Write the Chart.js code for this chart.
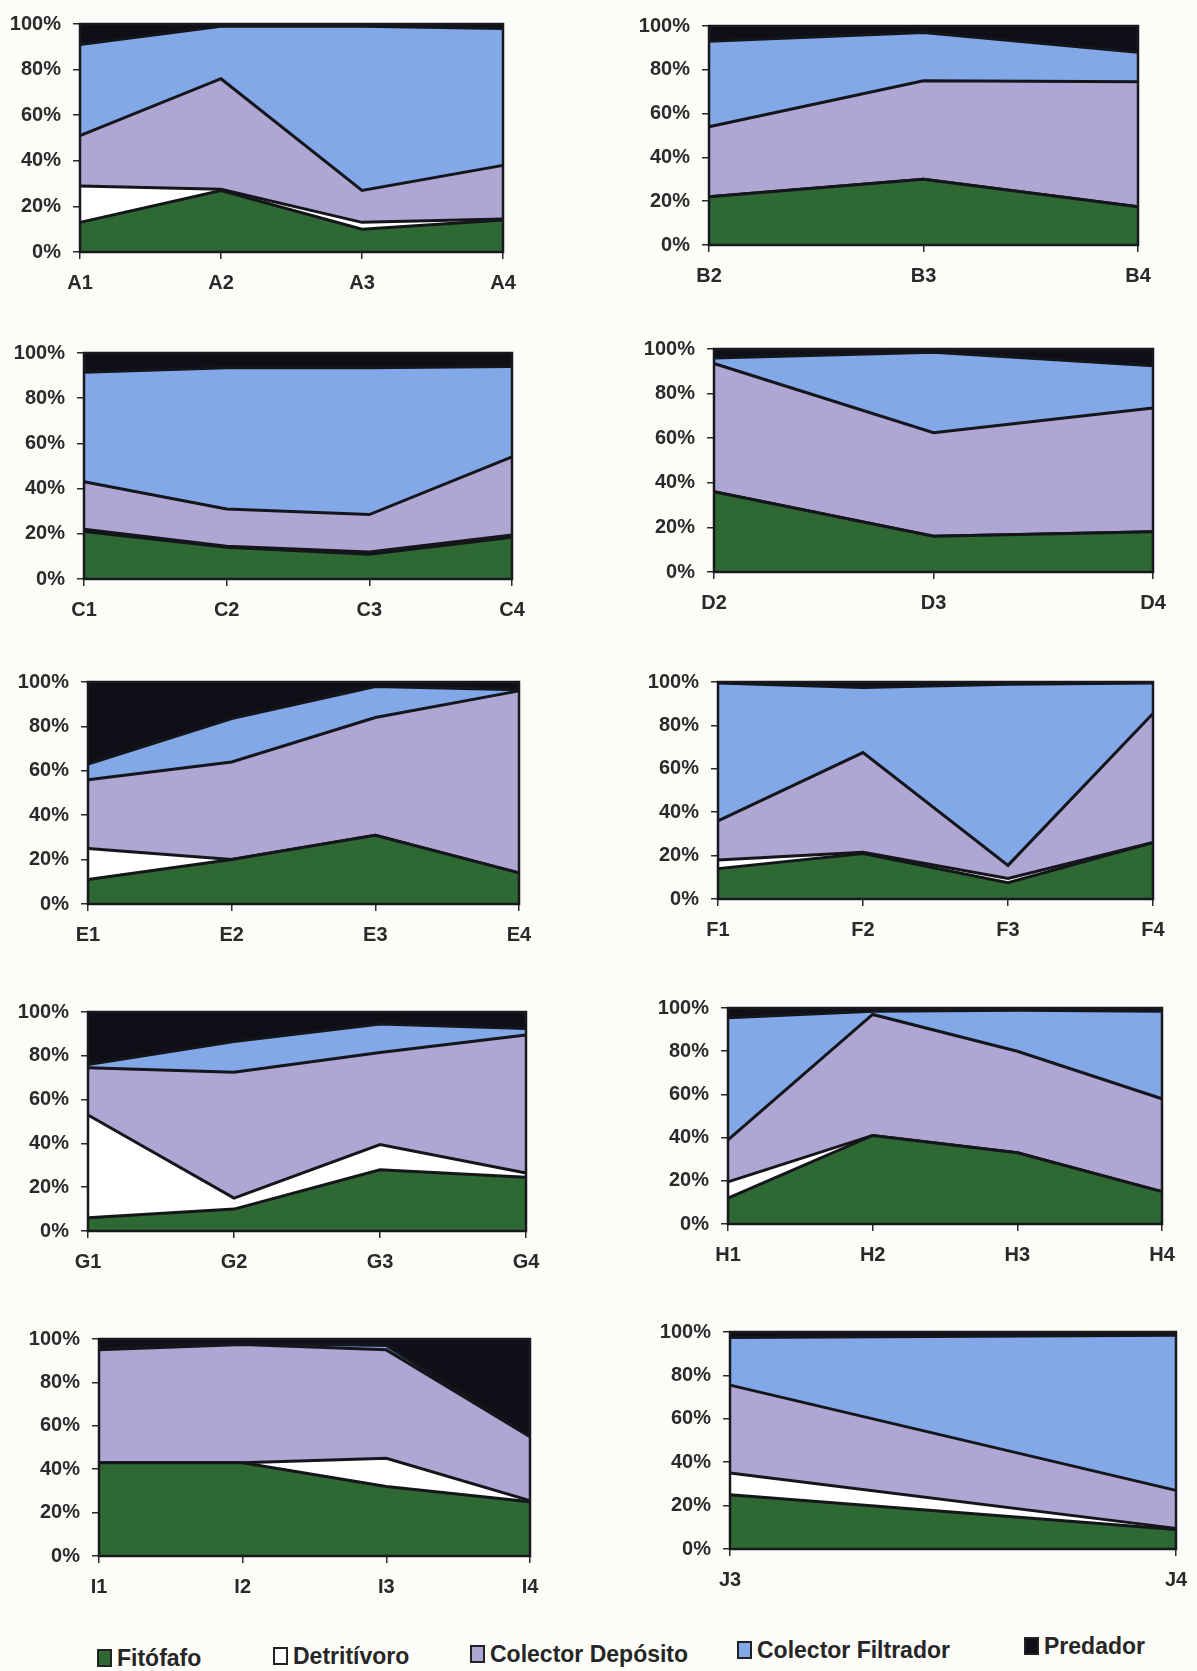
<!DOCTYPE html>
<html><head><meta charset="utf-8">
<script src="https://cdn.jsdelivr.net/npm/chart.js@4.4.1/dist/chart.umd.min.js"></script>
<style>
html,body{margin:0;padding:0;background:#fcfcf8;}
body{width:1197px;height:1671px;position:relative;overflow:hidden;font-family:'Liberation Sans',Arial,sans-serif;}
.panel{position:absolute;}
.leg{position:absolute;display:flex;align-items:center;font-size:23px;font-weight:bold;color:#262626;white-space:nowrap;height:28px;}
.sw{display:inline-block;width:11px;height:14px;border:2px solid #222;margin-right:5px;}
</style></head><body>
<script>
// ---------- DATA (percent per trophic group) ----------
const seriesNames = ['Fitófafo','Detritívoro','Colector Depósito','Colector Filtrador','Predador'];

const A_labels = ['A1','A2','A3','A4'];
const A_fitofago = [13, 27, 10, 14];
const A_detritivoro = [16, 0.5, 3, 0.5];
const A_deposito = [22, 48.5, 14, 23.5];
const A_filtrador = [40, 23, 72, 60];
const A_predador = [9, 1, 1, 2];

const B_labels = ['B2','B3','B4'];
const B_fitofago = [22, 30, 17.5];
const B_detritivoro = [0, 0, 0];
const B_deposito = [32, 45, 57];
const B_filtrador = [39, 22, 13.5];
const B_predador = [7, 3, 12];

const C_labels = ['C1','C2','C3','C4'];
const C_fitofago = [21, 14, 11, 18.5];
const C_detritivoro = [1, 0.5, 1, 1];
const C_deposito = [21, 16.5, 16.5, 34.5];
const C_filtrador = [48.5, 62.5, 65, 40];
const C_predador = [8.5, 6.5, 6.5, 6];

const D_labels = ['D2','D3','D4'];
const D_fitofago = [36, 16, 18];
const D_detritivoro = [0, 0, 0];
const D_deposito = [57.5, 46.5, 55.5];
const D_filtrador = [2.5, 36, 19];
const D_predador = [4, 1.5, 7.5];

const E_labels = ['E1','E2','E3','E4'];
const E_fitofago = [11, 20, 31, 14];
const E_detritivoro = [14, 0, 0, 0];
const E_deposito = [31, 44, 53, 82];
const E_filtrador = [7, 19.5, 14, 0.5];
const E_predador = [37, 16.5, 2, 3.5];

const F_labels = ['F1','F2','F3','F4'];
const F_fitofago = [14, 21, 7.5, 26];
const F_detritivoro = [4, 0.5, 2, 0];
const F_deposito = [18, 46, 6, 59.5];
const F_filtrador = [63.5, 30, 83.5, 14];
const F_predador = [0.5, 2.5, 1, 0.5];

const G_labels = ['G1','G2','G3','G4'];
const G_fitofago = [6, 10, 28, 24.5];
const G_detritivoro = [47, 5, 11.5, 2];
const G_deposito = [21.5, 57.5, 42, 63];
const G_filtrador = [1.5, 14, 13, 3];
const G_predador = [24, 13.5, 5.5, 7.5];

const H_labels = ['H1','H2','H3','H4'];
const H_fitofago = [12, 41, 33, 15];
const H_detritivoro = [7.5, 0, 0, 0];
const H_deposito = [19.5, 56, 47, 43];
const H_filtrador = [56.5, 1.5, 19, 40.5];
const H_predador = [4.5, 1.5, 1, 1.5];

const I_labels = ['I1','I2','I3','I4'];
const I_fitofago = [43, 43, 32, 25];
const I_detritivoro = [0, 0, 13, 0.5];
const I_deposito = [52, 54.5, 50, 29.5];
const I_filtrador = [0.5, 0.5, 2, 0];
const I_predador = [4.5, 2, 3, 45];

const J_labels = ['J3','J4'];
const J_fitofago = [25, 9];
const J_detritivoro = [10, 0.5];
const J_deposito = [40.5, 17.5];
const J_filtrador = [22, 71.5];
const J_predador = [2.5, 1.5];

const yTickValues = [0, 20, 40, 60, 80, 100];

// ---------- STYLE / LAYOUT ----------
const fillColors = ['#2e6832', '#ffffff', '#b0a6d3', '#82a8e8', '#0f0f17'];
const FONT = "'Liberation Sans', Arial, sans-serif";
// plot-area boxes [left, top, right, bottom] in page pixels
const boxes = {
  A:[80,16,503,252],  B:[709,18,1138,245],
  C:[84,345,512,579], D:[714,341,1153,572],
  E:[88,674,519,904], F:[718,674,1153,899],
  G:[88,1004,526,1231], H:[728,1000,1162,1224],
  I:[99,1331,530,1556], J:[730,1324,1176,1549]
};

const panels = [
  ['A', A_labels, [A_fitofago, A_detritivoro, A_deposito, A_filtrador, A_predador]],
  ['B', B_labels, [B_fitofago, B_detritivoro, B_deposito, B_filtrador, B_predador]],
  ['C', C_labels, [C_fitofago, C_detritivoro, C_deposito, C_filtrador, C_predador]],
  ['D', D_labels, [D_fitofago, D_detritivoro, D_deposito, D_filtrador, D_predador]],
  ['E', E_labels, [E_fitofago, E_detritivoro, E_deposito, E_filtrador, E_predador]],
  ['F', F_labels, [F_fitofago, F_detritivoro, F_deposito, F_filtrador, F_predador]],
  ['G', G_labels, [G_fitofago, G_detritivoro, G_deposito, G_filtrador, G_predador]],
  ['H', H_labels, [H_fitofago, H_detritivoro, H_deposito, H_filtrador, H_predador]],
  ['I', I_labels, [I_fitofago, I_detritivoro, I_deposito, I_filtrador, I_predador]],
  ['J', J_labels, [J_fitofago, J_detritivoro, J_deposito, J_filtrador, J_predador]]
];

const framePlugin = {
  id: 'frame',
  afterDatasetsDraw(chart) {
    const a = chart.chartArea, ctx = chart.ctx;
    ctx.save();
    ctx.strokeStyle = '#18181f';
    ctx.lineWidth = 2.5;
    ctx.strokeRect(a.left, a.top, a.right - a.left, a.bottom - a.top);
    ctx.restore();
  }
};

function makePanel(key, labels, series) {
  const [x0, y0, x1, y1] = boxes[key];
  const padL = 80, padT = 16, padR = 34, padB = 50;
  const w = (x1 - x0) + padL + padR, h = (y1 - y0) + padT + padB;
  const div = document.createElement('div');
  div.className = 'panel';
  div.style.left = (x0 - padL) + 'px';
  div.style.top = (y0 - padT) + 'px';
  const c = document.createElement('canvas');
  c.width = w; c.height = h;
  c.style.width = w + 'px'; c.style.height = h + 'px';
  div.appendChild(c);
  document.body.appendChild(div);

  const axisGrid = {display:true, drawOnChartArea:false, drawTicks:true, tickLength:7, color:'#2a2a2a', lineWidth:1.5};
  const axisBorder = {display:true, color:'#1a1a1a', width:2};
  const tickFont = {family:FONT, size:20, weight:'bold'};

  new Chart(c, {
    type: 'line',
    data: {
      labels: labels,
      datasets: series.map((vals, i) => ({
        label: seriesNames[i],
        data: vals,
        fill: i === 0 ? 'origin' : '-1',
        backgroundColor: fillColors[i],
        borderColor: '#15151c',
        borderWidth: 3,
        pointRadius: 0,
        tension: 0
      }))
    },
    options: {
      responsive: false,
      animation: false,
      devicePixelRatio: 1,
      layout: {padding: {top: padT, right: padR, left: 0, bottom: 0}},
      plugins: {legend: {display: false}, tooltip: {enabled: false}},
      scales: {
        x: {
          type: 'category', offset: false,
          grid: axisGrid, border: axisBorder,
          ticks: {color:'#2a2a2a', font:tickFont, padding:12, maxRotation:0, autoSkip:false},
          afterFit: s => { s.height = padB; }
        },
        y: {
          stacked: true, min: 0, max: 100,
          afterBuildTicks: s => { s.ticks = yTickValues.map(v => ({value: v})); },
          grid: axisGrid, border: axisBorder,
          ticks: {color:'#2a2a2a', font:tickFont, padding:12, callback: v => v + '%'},
          afterFit: s => { s.width = padL; }
        }
      }
    },
    plugins: [framePlugin]
  });
}

panels.forEach(p => makePanel(p[0], p[1], p[2]));

// ---------- LEGEND ----------
const legendPos = [[97,1644],[273,1642],[470,1640],[737,1636],[1024,1632]];
seriesNames.forEach((name, i) => {
  const d = document.createElement('div');
  d.className = 'leg';
  d.style.left = legendPos[i][0] + 'px';
  d.style.top = legendPos[i][1] + 'px';
  const sw = document.createElement('span');
  sw.className = 'sw';
  sw.style.background = fillColors[i];
  d.appendChild(sw);
  d.appendChild(document.createTextNode(name));
  document.body.appendChild(d);
});
</script>
</body></html>
